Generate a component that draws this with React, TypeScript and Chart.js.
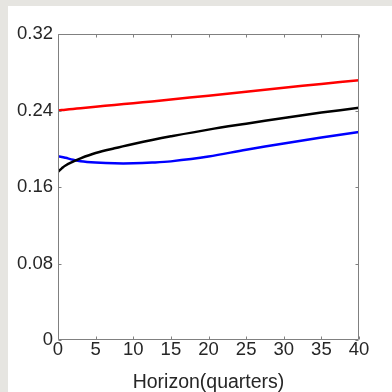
import React, { useEffect, useRef } from "react";
import { Chart, registerables } from "chart.js";

Chart.register(...registerables);

const horizons = [0, 0.5, 1, 2, 3, 5, 7.5, 10, 12.5, 15, 20, 25, 30, 35, 40];
const redSeries = [0.24, 0.2404, 0.2408, 0.2416, 0.2424, 0.244, 0.2458, 0.2476, 0.2495, 0.2515, 0.2555, 0.2597, 0.2638, 0.2678, 0.2716];
const blackSeries = [0.176, 0.1795, 0.1825, 0.1865, 0.19, 0.1955, 0.2005, 0.205, 0.2092, 0.213, 0.22, 0.2262, 0.2322, 0.2378, 0.2428];
const blueSeries = [0.192, 0.1914, 0.1905, 0.1885, 0.187, 0.1857, 0.1848, 0.1848, 0.1855, 0.1868, 0.1918, 0.199, 0.2055, 0.2118, 0.2176];
const xTicks = [0, 5, 10, 15, 20, 25, 30, 35, 40];
const yTicks = [0, 0.08, 0.16, 0.24, 0.32];
const xTitle = "Horizon(quarters)";

const FONT = "'Liberation Sans', Arial, Helvetica, sans-serif";
const AXIS_COLOR = "#808080";
const TEXT_COLOR = "#262626";

const boxPlugin = {
  id: "matlabBox",
  afterDatasetsDraw(chart: any) {
    const { ctx, chartArea, scales } = chart;
    const { left, right, top, bottom } = chartArea;
    const L = Math.round(left) + 0.5;
    const R = Math.round(right) - 0.5;
    const T = Math.round(top) + 0.5;
    const B = Math.round(bottom) - 0.5;
    ctx.save();
    ctx.strokeStyle = AXIS_COLOR;
    ctx.lineWidth = 1;
    ctx.beginPath();
    ctx.rect(L, T, R - L, B - T);
    const tl = 3;
    for (const v of xTicks) {
      const x = Math.round(scales.x.getPixelForValue(v)) + 0.5;
      ctx.moveTo(x, B);
      ctx.lineTo(x, B - tl);
      ctx.moveTo(x, T);
      ctx.lineTo(x, T + tl);
    }
    for (const v of yTicks) {
      const y = Math.round(scales.y.getPixelForValue(v)) + 0.5;
      ctx.moveTo(L, y);
      ctx.lineTo(L + tl, y);
      ctx.moveTo(R, y);
      ctx.lineTo(R - tl, y);
    }
    ctx.stroke();
    ctx.restore();
  },
};

function pts(ys: number[]) {
  return horizons.map((x, i) => ({ x, y: ys[i] }));
}

export default function App() {
  const ref = useRef<HTMLCanvasElement | null>(null);
  useEffect(() => {
    document.body.style.margin = "0";
    document.body.style.background = "#e6e5e1";
    const mk = (data: number[], color: string) => ({
      data: pts(data),
      borderColor: color,
      backgroundColor: color,
      borderWidth: 2.5,
      pointRadius: 0,
      tension: 0.35,
      fill: false,
    });
    const chart = new Chart(ref.current as HTMLCanvasElement, {
      type: "line",
      data: {
        datasets: [mk(redSeries, "#ff0000"), mk(blackSeries, "#000000"), mk(blueSeries, "#0000ff")],
      },
      plugins: [boxPlugin],
      options: {
        animation: false,
        responsive: false,
        layout: { padding: { left: 0, top: 28, right: 33, bottom: 0 } },
        plugins: { legend: { display: false }, tooltip: { enabled: false } },
        scales: {
          x: {
            type: "linear",
            min: 0,
            max: 40,
            afterBuildTicks: (s: any) => {
              s.ticks = xTicks.map((v) => ({ value: v }));
            },
            afterFit: (s: any) => {
              s.height = 52;
            },
            grid: { display: false, drawTicks: false },
            border: { display: false },
            ticks: {
              autoSkip: false,
              maxRotation: 0,
              padding: -1,
              color: TEXT_COLOR,
              font: { family: FONT, size: 18.5 },
              callback: (v: any) => String(v),
            },
            title: {
              display: true,
              text: xTitle,
              color: TEXT_COLOR,
              font: { family: FONT, size: 19.5 },
              padding: { top: 0, bottom: -2 },
            },
          },
          y: {
            type: "linear",
            min: 0,
            max: 0.32,
            afterBuildTicks: (s: any) => {
              s.ticks = yTicks.map((v) => ({ value: v }));
            },
            afterFit: (s: any) => {
              s.width = 50;
            },
            grid: { display: false, drawTicks: false },
            border: { display: false },
            ticks: {
              padding: 5,
              color: TEXT_COLOR,
              font: { family: FONT, size: 18.5 },
              callback: (v: any) => (Number(v) === 0 ? "0" : Number(v).toFixed(2)),
            },
          },
        },
      },
    } as any);
    return () => chart.destroy();
  }, []);
  return (
    <div style={{ position: "absolute", left: 8, top: 6, width: 384, height: 386, background: "#ffffff" }}>
      <canvas ref={ref} width={384} height={386} style={{ display: "block" }} />
    </div>
  );
}
